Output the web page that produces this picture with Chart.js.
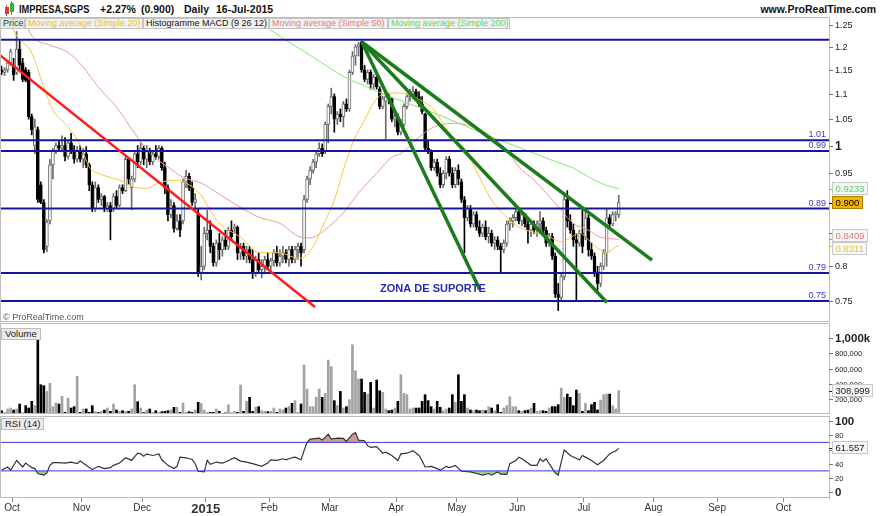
<!DOCTYPE html>
<html>
<head>
<meta charset="utf-8">
<title>IMPRESA,SGPS</title>
<script src="https://cdn.jsdelivr.net/npm/chart.js@4.4.1/dist/chart.umd.min.js"></script>
<style>
  html, body { margin: 0; padding: 0; background: #fff; }
  #wrap { position: relative; width: 880px; height: 516px; overflow: hidden; background: #fff;
          font-family: "Liberation Sans", Arial, sans-serif; }
  .pane { position: absolute; left: 0; }
  .hdr { position: absolute; top: 3px; font-size: 10.5px; font-weight: bold; color: #111; white-space: nowrap; line-height: 12px; }
  .leg { position: absolute; top: 18px; height: 11px; line-height: 9px; font-size: 9px; white-space: nowrap;
         border: 1px solid #c4c4c4; background: #f1f1f1; box-sizing: border-box; padding: 0 2px; overflow: hidden; }
  .tag { position: absolute; left: 1px; font-size: 9.5px; line-height: 10px; padding: 0 3px;
         border: 1px solid #bdbdbd; background: #ebebeb; color: #222; }
</style>
</head>
<body>
<div id="wrap">
  <div style="position:absolute;left:5px;top:7px;width:4px;height:7px;background:#e03a3a"></div>
  <div style="position:absolute;left:6px;top:5px;width:1px;height:11px;background:#e03a3a"></div>
  <div style="position:absolute;left:10px;top:3px;width:4px;height:9px;background:#2fb52f"></div>
  <div style="position:absolute;left:11px;top:1px;width:1px;height:14px;background:#2fb52f"></div>
  <div class="hdr" style="left:19px;transform:scaleX(0.88);transform-origin:left">IMPRESA,SGPS</div>
  <div class="hdr" style="left:100px">+2.27%</div>
  <div class="hdr" style="left:141px">(0.900)</div>
  <div class="hdr" style="left:184px">Daily</div>
  <div class="hdr" style="left:216px">16-Jul-2015</div>
  <div class="hdr" style="right:4px">www.ProRealTime.com</div>

  <canvas id="cPrice" class="pane" width="880" height="305" style="top:17px"></canvas>
  <canvas id="cVol" class="pane" width="880" height="91" style="top:323px"></canvas>
  <canvas id="cRsi" class="pane" width="880" height="100" style="top:416px"></canvas>

  <div class="leg" style="left:0;width:25px;color:#2c4a2c;background:#e2e7df">Price</div>
  <div class="leg" style="left:25px;width:118px;color:#f2bf1c">Moving average (Simple 20)</div>
  <div class="leg" style="left:143px;width:126px;color:#111">Histogramme MACD (9 26 12)</div>
  <div class="leg" style="left:269px;width:119px;color:#e77c7c">Moving average (Simple 50)</div>
  <div class="leg" style="left:388px;width:122px;color:#55de55">Moving average (Simple 200)</div>

  <div style="position:absolute;left:3px;top:312px;font-size:9px;color:#555">© ProRealTime.com</div>
  <div class="tag" style="top:328px">Volume</div>
  <div class="tag" style="top:418px">RSI (14)</div>
</div>

<script>
// ---- trading-day axis ----
const slots = 274;
const monthStarts = [4, 27, 47, 68, 89, 109, 131, 151, 171, 193, 216, 237, 259];
const monthLabels = ['Oct', 'Nov', 'Dec', '2015', 'Feb', 'Mar', 'Apr', 'May', 'Jun', 'Jul', 'Aug', 'Sep', 'Oct'];

// ---- daily candles ----
const open = [
  1.150,1.145,1.150,1.165,1.160,1.145,1.195,1.165,1.150,1.145,
  1.055,1.000,1.030,0.930,0.900,0.830,0.870,0.965,0.990,1.000,
  0.995,1.000,0.980,1.005,0.990,0.975,0.990,0.975,0.985,0.965,
  0.930,0.890,0.925,0.905,0.910,0.890,0.895,0.890,0.910,0.895,
  0.925,0.920,0.975,0.925,0.940,0.985,0.970,0.995,0.975,0.990,
  0.970,0.985,0.980,0.995,0.960,0.925,0.880,0.895,0.858,0.870,
  0.870,0.935,0.945,0.925,0.900,0.883,0.790,0.800,0.850,0.855,
  0.830,0.805,0.835,0.825,0.840,0.830,0.855,0.858,0.860,0.820,
  0.830,0.815,0.825,0.810,0.790,0.810,0.795,0.800,0.810,0.800,
  0.808,0.820,0.805,0.815,0.820,0.810,0.825,0.810,0.825,0.830,
  0.825,0.905,0.940,0.955,0.970,0.985,0.995,0.990,1.040,1.075,
  1.095,1.050,1.060,1.055,1.080,1.070,1.145,1.180,1.200,1.210,
  1.150,1.130,1.145,1.120,1.135,1.110,1.075,1.085,1.095,1.090,
  1.050,1.055,1.025,1.040,1.075,1.095,1.100,1.105,1.095,1.080,
  1.060,0.995,0.990,0.960,0.970,0.950,0.930,0.950,0.975,0.950,
  0.930,0.955,0.935,0.905,0.875,0.890,0.865,0.880,0.860,0.850,
  0.860,0.845,0.850,0.835,0.840,0.830,0.825,0.835,0.865,0.870,
  0.875,0.885,0.870,0.880,0.865,0.855,0.865,0.855,0.865,0.870,
  0.855,0.835,0.845,0.815,0.760,0.755,0.785,0.905,0.870,0.855,
  0.840,0.835,0.850,0.845,0.875,0.825,0.815,0.790,0.775,0.800,
  0.820,0.875,0.865,0.880,0.880
];
const high = [
  1.158,1.155,1.170,1.195,1.175,1.235,1.215,1.175,1.155,1.150,
  1.060,1.050,1.035,0.935,0.905,0.872,0.975,0.995,1.005,1.010,
  1.018,1.015,1.010,1.023,1.000,0.998,1.000,0.995,0.998,0.968,
  0.935,0.935,0.930,0.915,0.912,0.900,0.900,0.915,0.920,0.930,
  0.930,0.980,0.978,0.945,0.990,1.000,1.005,1.000,1.000,0.995,
  0.990,1.000,1.000,0.998,0.970,0.930,0.905,0.900,0.880,0.880,
  0.940,0.955,0.950,0.935,0.915,0.890,0.830,0.860,0.887,0.870,
  0.835,0.840,0.850,0.845,0.855,0.860,0.870,0.865,0.862,0.835,
  0.835,0.830,0.830,0.825,0.815,0.820,0.810,0.815,0.820,0.812,
  0.825,0.830,0.825,0.830,0.825,0.830,0.830,0.830,0.835,0.835,
  0.912,0.945,0.962,0.975,0.990,1.005,1.003,1.045,1.080,1.112,
  1.100,1.065,1.070,1.085,1.090,1.150,1.190,1.205,1.210,1.213,
  1.160,1.150,1.150,1.140,1.140,1.115,1.095,1.100,1.100,1.092,
  1.060,1.060,1.050,1.080,1.100,1.110,1.115,1.110,1.105,1.095,
  1.062,1.010,0.992,0.975,0.975,0.960,0.955,0.980,0.980,0.960,
  0.960,0.965,0.940,0.910,0.895,0.895,0.885,0.885,0.870,0.865,
  0.870,0.860,0.855,0.845,0.845,0.835,0.840,0.870,0.875,0.880,
  0.890,0.890,0.885,0.882,0.870,0.870,0.870,0.870,0.885,0.875,
  0.860,0.850,0.850,0.820,0.775,0.790,0.916,0.920,0.880,0.865,
  0.850,0.855,0.892,0.885,0.880,0.835,0.820,0.800,0.805,0.825,
  0.890,0.880,0.885,0.885,0.912
];
const low = [
  1.140,1.138,1.145,1.160,1.128,1.140,1.150,1.125,1.125,1.050,
  1.020,0.985,0.900,0.898,0.820,0.822,0.865,0.940,0.985,0.990,
  0.990,0.972,0.975,0.985,0.968,0.970,0.970,0.960,0.960,0.920,
  0.885,0.885,0.900,0.895,0.885,0.885,0.840,0.885,0.890,0.893,
  0.915,0.918,0.930,0.888,0.935,0.960,0.965,0.965,0.960,0.965,
  0.965,0.975,0.975,0.955,0.915,0.870,0.875,0.852,0.855,0.845,
  0.865,0.925,0.920,0.895,0.885,0.785,0.780,0.795,0.840,0.820,
  0.800,0.800,0.810,0.815,0.825,0.825,0.840,0.850,0.810,0.810,
  0.810,0.805,0.805,0.782,0.785,0.790,0.783,0.790,0.795,0.790,
  0.800,0.800,0.800,0.805,0.805,0.800,0.805,0.805,0.810,0.800,
  0.820,0.900,0.930,0.950,0.960,0.980,0.980,0.985,1.005,1.060,
  1.025,1.040,1.045,1.035,1.065,1.065,1.140,1.160,1.180,1.145,
  1.125,1.120,1.110,1.110,1.110,1.070,1.070,1.012,1.080,1.045,
  1.035,1.020,1.020,1.035,1.070,1.085,1.090,1.090,1.075,1.060,
  0.990,0.985,0.955,0.955,0.945,0.925,0.925,0.940,0.945,0.925,
  0.925,0.930,0.900,0.820,0.870,0.860,0.860,0.855,0.845,0.845,
  0.840,0.835,0.830,0.825,0.825,0.790,0.820,0.830,0.855,0.860,
  0.870,0.865,0.862,0.860,0.835,0.845,0.850,0.845,0.855,0.850,
  0.830,0.830,0.810,0.755,0.737,0.750,0.780,0.860,0.850,0.830,
  0.752,0.830,0.820,0.840,0.815,0.810,0.785,0.765,0.770,0.795,
  0.800,0.860,0.862,0.870,0.875
];
const close = [
  1.145,1.150,1.165,1.190,1.140,1.195,1.160,1.130,1.128,1.055,
  1.030,1.035,0.905,0.900,0.825,0.868,0.965,0.990,1.000,0.995,
  1.000,0.980,1.005,0.990,0.975,0.990,0.975,0.985,0.965,0.930,
  0.890,0.925,0.905,0.910,0.890,0.895,0.885,0.910,0.895,0.925,
  0.920,0.975,0.940,0.940,0.985,0.970,0.995,0.975,0.990,0.970,
  0.985,0.980,0.995,0.960,0.925,0.880,0.895,0.858,0.870,0.855,
  0.935,0.945,0.925,0.900,0.905,0.790,0.800,0.850,0.855,0.830,
  0.805,0.835,0.825,0.840,0.830,0.855,0.845,0.860,0.820,0.830,
  0.815,0.825,0.810,0.790,0.810,0.795,0.800,0.810,0.800,0.808,
  0.820,0.805,0.815,0.820,0.810,0.825,0.810,0.825,0.830,0.820,
  0.905,0.940,0.955,0.970,0.985,0.995,0.985,1.040,1.075,1.095,
  1.050,1.060,1.055,1.080,1.070,1.145,1.180,1.200,1.205,1.150,
  1.130,1.145,1.120,1.135,1.115,1.075,1.090,1.095,1.090,1.050,
  1.055,1.025,1.040,1.075,1.095,1.100,1.105,1.095,1.080,1.065,
  0.995,0.990,0.960,0.970,0.950,0.930,0.950,0.975,0.950,0.930,
  0.955,0.940,0.905,0.875,0.890,0.865,0.880,0.860,0.850,0.860,
  0.845,0.850,0.835,0.840,0.830,0.825,0.835,0.865,0.870,0.875,
  0.885,0.870,0.880,0.865,0.855,0.865,0.855,0.865,0.870,0.855,
  0.835,0.845,0.815,0.760,0.755,0.785,0.905,0.870,0.855,0.840,
  0.835,0.850,0.830,0.875,0.825,0.815,0.790,0.775,0.800,0.820,
  0.875,0.865,0.880,0.880,0.900
];

// ---- daily volume, thousands of shares ----
const volumeK = [
  44,20,66,79,53,66,132,12,110,79,
  167,110,1075,386,373,298,404,97,145,132,
  233,22,211,79,97,496,22,66,66,22,
  110,31,20,35,53,79,35,132,53,35,
  44,35,35,66,386,162,79,20,53,66,
  20,44,20,31,35,44,53,88,88,22,
  145,22,31,22,53,154,140,53,22,22,
  22,66,35,10,15,123,12,35,22,382,
  35,167,220,35,88,97,44,35,31,35,
  79,22,66,53,79,97,140,176,22,132,
  645,329,97,97,220,329,220,272,711,623,
  176,110,298,79,97,189,913,571,461,461,
  285,263,417,79,448,307,285,66,44,53,
  79,167,518,272,255,66,79,79,79,167,
  255,176,97,66,167,88,44,66,79,255,
  154,518,167,255,79,53,44,53,44,53,
  44,97,79,44,123,22,79,110,228,97,
  97,44,35,44,53,79,140,35,44,44,
  35,79,97,97,123,342,220,263,220,110,
  316,272,35,140,44,123,154,53,184,255,
  263,263,110,66,309
];

// ---- moving averages (read at sample days) ----
const ma20Idx = [3,4,10,14,17,22,26,29,32,39,44,48,52,57,61,66,69,72,79,85,92,98,100,103,106,110,113,116,120,123,127,132,137,143,148,154,158,162,167,171,176,180,185,188,191,194,198,200,203,204];
const ma20Val = [1.260,1.238,1.186,1.114,1.068,1.035,1.001,0.961,0.950,0.938,0.926,0.924,0.933,0.938,0.933,0.912,0.887,0.866,0.844,0.821,0.820,0.812,0.814,0.829,0.860,0.904,0.956,1.004,1.048,1.082,1.102,1.102,1.092,1.068,1.023,0.986,0.943,0.904,0.876,0.860,0.852,0.847,0.837,0.843,0.851,0.840,0.824,0.820,0.829,0.8311];
const ma50Idx = [8,9,16,22,27,32,38,44,49,55,60,66,72,79,85,92,99,102,108,113,118,124,129,132,138,143,149,156,162,167,171,176,180,185,189,194,198,204];
const ma50Val = [1.270,1.238,1.204,1.188,1.156,1.114,1.074,1.023,0.986,0.961,0.943,0.933,0.914,0.892,0.876,0.866,0.844,0.843,0.860,0.883,0.916,0.950,0.979,0.985,1.016,1.035,1.042,1.035,1.016,0.992,0.961,0.938,0.916,0.887,0.866,0.855,0.844,0.8409];
const ma200Idx = [81,89,94,101,108,114,121,127,134,143,154,162,169,176,182,189,196,200,204];
const ma200Val = [1.272,1.238,1.215,1.186,1.156,1.133,1.114,1.098,1.082,1.062,1.035,1.016,1.001,0.986,0.973,0.959,0.938,0.929,0.9233];

// ---- RSI (14), read at sample days ----
const rsiIdx = [0,2,3,5,6,7,8,10,11,12,14,15,16,17,19,21,23,25,26,28,30,32,34,36,37,39,41,43,45,46,47,48,50,52,53,55,57,58,59,61,63,64,65,67,68,69,71,73,74,77,79,81,83,86,88,89,91,93,94,96,97,99,100,101,102,105,106,108,109,111,113,114,116,117,118,120,121,122,124,126,127,129,131,132,134,136,138,139,140,142,144,145,147,148,150,152,155,157,159,161,162,164,165,167,168,170,171,172,174,175,177,178,179,180,181,183,184,185,186,188,191,192,193,195,197,199,201,202,203,204];
const rsiVal = [30.9,35.5,31,44.7,40,35.5,41,34.6,33.2,26.3,24,27.2,37.8,41.5,41.5,41,42.4,40.1,43.8,37.8,31.8,36.4,33.2,34.6,37.8,41,48.4,44.7,54.8,53.9,50.7,53.9,51.6,53.9,45.6,37.8,33.2,36.4,49.3,48.4,46.1,40.1,29.5,28.6,44.7,39.2,42.4,41,42.4,48.4,43.8,42.4,40.1,36.4,41,45.6,44.7,47,45.6,48.4,49.3,45.6,58.5,70,74.6,76,73.2,81.5,74.6,76,75.5,71.4,81.5,83.8,73.2,72.3,65.4,63.1,64,54.8,56.2,51.6,44.7,53.9,54.8,58.5,51.6,44.7,35.5,36.4,33.2,30.9,36.4,34.6,37.8,29.5,28.6,26.3,24,26.3,24,28.6,25.4,25,40.1,44.7,49.3,47,41,37.8,37.8,47,43.3,47,40.1,27.2,24,42.4,59.4,51.6,45.6,51.6,49.3,44.7,38.7,44.7,53.9,56.2,58,61.557];

// ---- drawn levels and trendlines (day index, price) ----
const levels = [1.216, 1.01, 0.99, 0.89, 0.79, 0.75];
const levelLabels = ['', '1.01', '0.99', '0.89', '0.79', '0.75'];
const greenLines = [
  [[119.1, 1.211], [158.1, 0.766]],
  [[119.1, 1.211], [200.1, 0.748]],
  [[119.1, 1.211], [215.0, 0.809]]
];
const redLine = [[-0.5, 1.182], [103.6, 0.742]];

// ---- axis labels ----
const priceTicks = [1.25, 1.2, 1.15, 1.1, 1.05, 1, 0.95, 0.9, 0.85, 0.8, 0.75];
const volTicks = [1000, 800, 600, 400, 200];
const volLabels = ['1,000k', '800,000', '600,000', '400,000', '200,000'];
const rsiTicks = [100, 80, 60, 40, 20, 0];

const FONT = '"Liberation Sans", Arial, sans-serif';
const days = close.map((c, i) => i);
const isUp = close.map((c, i) => c >= open[i]);

const seg = pts => pts.map(p => ({ x: p[0], y: p[1] }));
const series = (ix, vals) => ix.map((x, k) => ({ x, y: vals[k] }));

function xAxis(show) {
  const ax = { type: 'linear', min: -0.5, max: slots - 0.5, offset: false, display: show };
  if (show) {
    Object.assign(ax, {
      afterBuildTicks: s => { s.ticks = monthStarts.map(m => ({ value: m - 0.5 })); },
      afterFit: s => { s.height = 18; },
      grid: { drawOnChartArea: false, drawTicks: true, tickLength: 4, color: '#8a8a8a' },
      border: { display: false },
      ticks: {
        autoSkip: false, maxRotation: 0, padding: 0, color: '#333',
        callback: (v, i) => monthLabels[i],
        font: c => c.index === 3 ? { family: FONT, size: 13, weight: 'bold' } : { family: FONT, size: 10 }
      }
    });
  }
  return ax;
}
function yAxis(extra) {
  return Object.assign({
    position: 'right',
    ticks: { display: false },
    grid: { display: false },
    border: { color: '#8a8a8a' },
    afterFit: s => { s.width = 51; }
  }, extra);
}

// frame, right-hand labels, value boxes and notes
function deco(cfg) {
  return {
    id: 'deco',
    afterDraw(chart) {
      const { ctx, chartArea: a } = chart;
      const y = chart.scales.y;
      ctx.save();
      ctx.lineWidth = 1;
      ctx.strokeStyle = '#bcbcbc';
      ctx.strokeRect(0.5, a.top + 0.5, a.right, a.bottom - a.top - 1);

      ctx.textAlign = 'left';
      ctx.textBaseline = 'middle';
      cfg.ticks.forEach((v, i) => {
        const py = Math.round(y.getPixelForValue(v)) + 0.5;
        ctx.strokeStyle = '#777';
        ctx.beginPath(); ctx.moveTo(a.right, py); ctx.lineTo(a.right + 4, py); ctx.stroke();
        const bold = cfg.bold.includes(i);
        ctx.font = bold ? cfg.boldFont : cfg.font;
        ctx.fillStyle = '#222';
        ctx.fillText(cfg.labels ? cfg.labels[i] : String(v), a.right + 6, py + 0.5);
      });

      (cfg.levelText || []).forEach((t, i) => {
        if (!t) return;
        const py = y.getPixelForValue(cfg.levelVals[i]);
        ctx.font = '9px ' + FONT;
        ctx.fillStyle = '#3a3ac4';
        ctx.textAlign = 'right';
        ctx.textBaseline = 'bottom';
        ctx.fillText(t, a.right - 3, py - 1);
      });

      if (cfg.note) {
        const n = cfg.note;
        ctx.font = 'bold 11px ' + FONT;
        ctx.fillStyle = '#2b2bb0';
        ctx.textAlign = 'center';
        ctx.textBaseline = 'middle';
        ctx.fillText(n.t, chart.scales.x.getPixelForValue(n.x), y.getPixelForValue(n.y));
      }

      ctx.textAlign = 'left';
      ctx.textBaseline = 'middle';
      cfg.boxes.forEach(b => {
        const py = y.getPixelForValue(b.v);
        const cy = Math.round(py + (b.dy || 0));
        ctx.font = '9.5px ' + FONT;
        const w = Math.round(ctx.measureText(b.t).width) + 6;
        ctx.strokeStyle = b.color;
        ctx.beginPath(); ctx.moveTo(a.right, Math.round(py) + 0.5); ctx.lineTo(a.right + 4, Math.round(py) + 0.5); ctx.stroke();
        ctx.fillStyle = b.bg;
        ctx.fillRect(a.right + 3.5, cy - 6.5, w, 12);
        ctx.strokeStyle = b.border;
        ctx.strokeRect(a.right + 3.5, cy - 6.5, w, 12);
        ctx.fillStyle = b.color;
        ctx.fillText(b.t, a.right + 6.5, cy + 0.5);
      });
      ctx.restore();
    }
  };
}

const common = {
  responsive: false,
  animation: false,
  devicePixelRatio: 1,
  events: [],
  layout: { padding: 0 },
  plugins: { legend: { display: false }, tooltip: { enabled: false } }
};

// ---- price panel ----
const priceSets = [
  {
    type: 'bar', label: 'wick', order: 9, grouped: false, barThickness: 1,
    data: days.map(i => ({ x: i, y: [low[i], high[i]] })),
    backgroundColor: isUp.map(u => u ? '#6b6b6b' : '#000')
  },
  {
    type: 'bar', label: 'body', order: 8, grouped: false, barThickness: 3, minBarLength: 1,
    borderWidth: 1, borderSkipped: false,
    data: days.map(i => ({ x: i, y: [Math.min(open[i], close[i]), Math.max(open[i], close[i])] })),
    backgroundColor: isUp.map(u => u ? '#ffffff' : '#000'),
    borderColor: isUp.map(u => u ? '#6b6b6b' : '#000')
  },
  { type: 'line', label: 'MA200', order: 7, data: series(ma200Idx, ma200Val), borderColor: '#84e86a', borderWidth: 1, pointRadius: 0, cubicInterpolationMode: 'monotone' },
  { type: 'line', label: 'MA50', order: 6, data: series(ma50Idx, ma50Val), borderColor: '#e99a9a', borderWidth: 1, pointRadius: 0, cubicInterpolationMode: 'monotone' },
  { type: 'line', label: 'MA20', order: 5, data: series(ma20Idx, ma20Val), borderColor: '#f7c53a', borderWidth: 1, pointRadius: 0, cubicInterpolationMode: 'monotone' }
];
levels.forEach(v => priceSets.push({
  type: 'line', order: 4, data: [{ x: -0.5, y: v }, { x: slots - 0.5, y: v }],
  borderColor: '#16169c', borderWidth: 2, pointRadius: 0
}));
priceSets.push({ type: 'line', order: 3, data: seg(redLine), borderColor: '#ff1c1c', borderWidth: 2.5, pointRadius: 0 });
greenLines.forEach(l => priceSets.push({
  type: 'line', order: 2, data: seg(l), borderColor: '#1b7c1b', borderWidth: 3.5, pointRadius: 0
}));

new Chart(document.getElementById('cPrice'), {
  type: 'bar',
  data: { datasets: priceSets },
  options: Object.assign({}, common, {
    scales: {
      x: xAxis(false),
      y: yAxis({ type: 'logarithmic', min: 0.7216, max: 1.2683 })
    }
  }),
  plugins: [deco({
    ticks: priceTicks, bold: [5],
    font: '9px ' + FONT, boldFont: 'bold 12px ' + FONT,
    levelVals: levels, levelText: levelLabels,
    note: { t: 'ZONA DE SUPORTE', x: 142.6, y: 0.767 },
    boxes: [
      { v: 0.9233, t: '0.9233', color: '#58d458', bg: '#f6f6f6', border: '#c8c8c8' },
      { v: 0.900, t: '0.900', color: '#000', bg: '#f2b600', border: '#a88000' },
      { v: 0.8409, t: '0.8409', dy: -3, color: '#e47b7b', bg: '#f6f6f6', border: '#c8c8c8' },
      { v: 0.8311, t: '0.8311', dy: 3.5, color: '#f0bf2c', bg: '#f6f6f6', border: '#c8c8c8' }
    ]
  })]
});

// ---- volume panel ----
new Chart(document.getElementById('cVol'), {
  type: 'bar',
  data: {
    datasets: [{
      data: days.map(i => ({ x: i, y: volumeK[i] })),
      backgroundColor: isUp.map(u => u ? '#a2a2a2' : '#000'),
      barThickness: 2
    }]
  },
  options: Object.assign({}, common, {
    scales: { x: xAxis(false), y: yAxis({ type: 'linear', min: 0, max: 1200 }) }
  }),
  plugins: [deco({
    ticks: volTicks, labels: volLabels, bold: [0],
    font: '7.5px ' + FONT, boldFont: 'bold 11.5px ' + FONT,
    boxes: [{ v: 308.999, t: '308,999', color: '#222', bg: '#f6f6f6', border: '#c8c8c8' }]
  })]
});

// ---- RSI panel ----
const rsiData = series(rsiIdx, rsiVal);
new Chart(document.getElementById('cRsi'), {
  type: 'line',
  data: {
    datasets: [
      { data: [{ x: -0.5, y: 70 }, { x: slots - 0.5, y: 70 }], borderColor: '#3b3be0', borderWidth: 1, pointRadius: 0, order: 1 },
      { data: [{ x: -0.5, y: 30 }, { x: slots - 0.5, y: 30 }], borderColor: '#3b3be0', borderWidth: 1, pointRadius: 0, order: 1 },
      { data: rsiData, borderColor: '#333', borderWidth: 1.2, pointRadius: 0, order: 2,
        fill: { target: { value: 70 }, above: 'rgba(196,128,128,0.8)', below: 'rgba(0,0,0,0)' } },
      { data: rsiData, borderWidth: 0, pointRadius: 0, order: 3,
        fill: { target: { value: 30 }, above: 'rgba(0,0,0,0)', below: 'rgba(128,196,128,0.8)' } }
    ]
  },
  options: Object.assign({}, common, {
    scales: { x: xAxis(true), y: yAxis({ type: 'linear', min: -8, max: 107 }) }
  }),
  plugins: [deco({
    ticks: rsiTicks, bold: [0, 5],
    font: '7.5px ' + FONT, boldFont: 'bold 11.5px ' + FONT,
    boxes: [{ v: 61.557, t: '61.557', color: '#222', bg: '#f6f6f6', border: '#c8c8c8' }]
  })]
});
</script>
</body>
</html>
